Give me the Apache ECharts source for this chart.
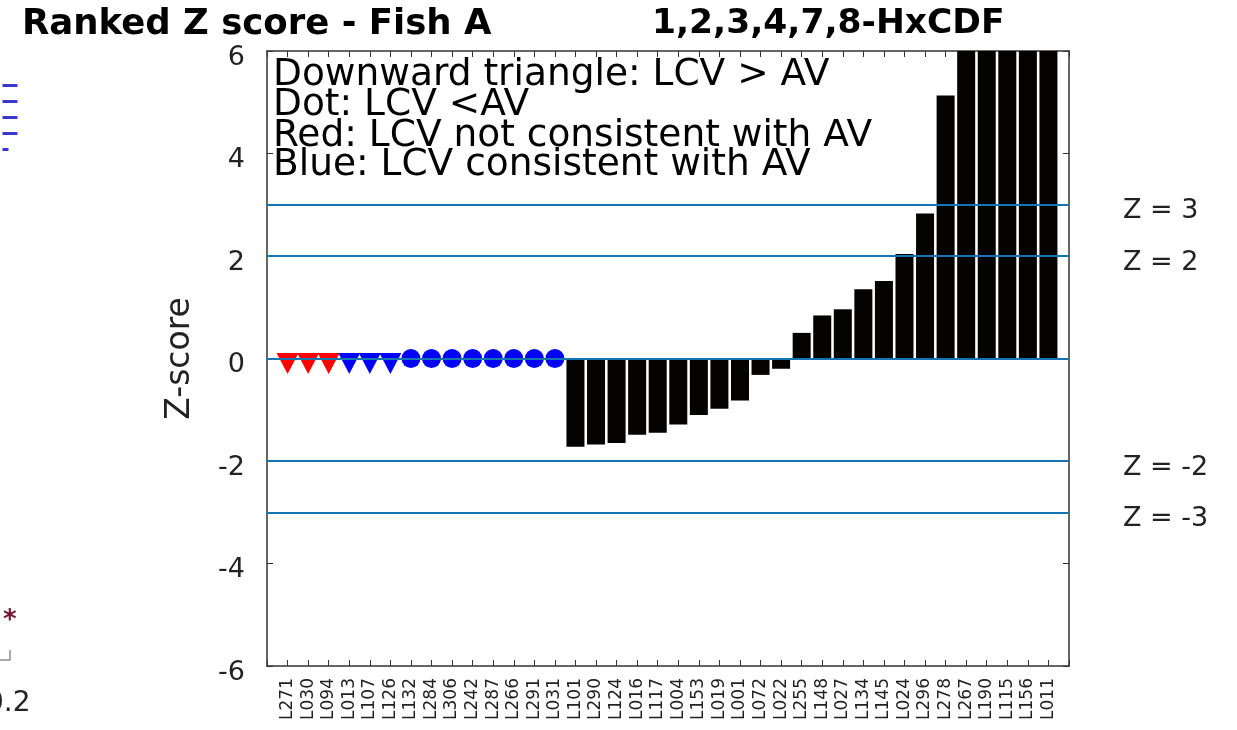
<!DOCTYPE html>
<html>
<head>
<meta charset="utf-8">
<title>Ranked Z score - Fish A</title>
<script src="https://cdn.jsdelivr.net/npm/echarts@6/dist/echarts.min.js"></script>
<style>
  html, body { margin: 0; padding: 0; background: #fff; }
  #chart { width: 1237px; height: 730px; }
</style>
</head>
<body>
<div id="chart"></div>
<script>
// lab codes, ranked
var labs = ['L271', 'L030', 'L094', 'L013', 'L107', 'L126', 'L132', 'L284', 'L306', 'L242',
    'L287', 'L266', 'L291', 'L031', 'L101', 'L290', 'L124', 'L016', 'L117', 'L004',
    'L153', 'L019', 'L001', 'L072', 'L022', 'L255', 'L148', 'L027', 'L134', 'L145',
    'L024', 'L296', 'L278', 'L267', 'L190', 'L115', 'L156', 'L011'];

// z scores (null = no score, marker instead); the last ones run off the top
var zScores = [null, null, null, null, null, null, null, null, null, null,
    null, null, null, null, -1.72, -1.68, -1.65, -1.49, -1.45, -1.29,
    -1.10, -0.98, -0.82, -0.32, -0.20, 0.50, 0.84, 0.96, 1.35, 1.51,
    2.04, 2.83, 5.13, 6, 6, 6, 6, 6];

// marker kind for labs below LOQ: tr = red triangle, tb = blue triangle, db = blue dot
var marks = ['tr', 'tr', 'tr', 'tb', 'tb', 'tb', 'db', 'db', 'db', 'db', 'db', 'db', 'db', 'db'];

var zLimits = [3, 2, -2, -3];

var legendLines = ['Downward triangle: LCV > AV', 'Dot: LCV <AV',
    'Red: LCV not consistent with AV', 'Blue: LCV consistent with AV'];

var font = 'DejaVu Sans';
var lineCol = '#1575b0';

var barData = [];
for (var i = 0; i < labs.length; i++) {
    if (zScores[i] !== null) barData.push([i + 1, zScores[i]]);
}
function markData(kind) {
    var out = [];
    for (var i = 0; i < marks.length; i++) {
        if (marks[i] === kind) out.push([i + 1, 0]);
    }
    return out;
}

var limitLines = [{ yAxis: 0, label: { show: false } }];
zLimits.forEach(function (z) {
    limitLines.push({ yAxis: z, label: { formatter: '{a|Z = ' + z + '}' } });
});

var chart = echarts.init(document.getElementById('chart'));

var axisBase = {
    type: 'value',
    min: 0,
    max: labs.length + 1,
    interval: 1,
    splitLine: { show: false },
    axisLine: { show: true, onZero: false, lineStyle: { color: '#333', width: 1.5 } },
    axisTick: { show: true, inside: true, length: 6, lineStyle: { color: '#333' } }
};

var option = {
    backgroundColor: '#fff',
    animation: false,
    grid: { left: 267, top: 51, width: 802, height: 615 },
    xAxis: [
        Object.assign({}, axisBase, {
            position: 'bottom',
            axisLabel: {
                rotate: 90,
                margin: 12,
                fontFamily: font,
                fontSize: 17,
                color: '#222',
                formatter: function (v) { return labs[v - 1] || ''; }
            }
        }),
        Object.assign({}, axisBase, {
            position: 'top',
            axisLabel: { show: false }
        })
    ],
    yAxis: [
        {
            type: 'value', min: -6, max: 6, interval: 2,
            name: 'Z-score',
            nameLocation: 'middle',
            nameGap: 70,
            nameTextStyle: { fontFamily: font, fontSize: 33, color: '#222' },
            splitLine: { show: false },
            axisLine: { show: true, onZero: false, lineStyle: { color: '#333', width: 1.5 } },
            axisTick: { show: true, inside: true, length: 6, lineStyle: { color: '#333' } },
            axisLabel: {
                margin: 22,
                formatter: function (v) { return '{a|' + v + '}'; },
                rich: { a: { fontFamily: font, fontSize: 27, color: '#222', padding: [13, 0, 0, 0] } }
            }
        },
        {
            type: 'value', min: -6, max: 6, interval: 2, position: 'right',
            splitLine: { show: false },
            axisLine: { show: true, onZero: false, lineStyle: { color: '#333', width: 1.5 } },
            axisTick: { show: true, inside: true, length: 6, lineStyle: { color: '#333' } },
            axisLabel: { show: false }
        }
    ],
    series: [
        {
            type: 'bar',
            data: barData,
            barWidth: 18,
            itemStyle: { color: '#050202' },
            markLine: {
                silent: true,
                symbol: ['none', 'none'],
                lineStyle: { color: lineCol, width: 2, type: 'solid' },
                label: {
                    position: 'end',
                    distance: 54,
                    rich: { a: { fontFamily: font, fontSize: 27, color: '#222', padding: [13, 0, 0, 0] } }
                },
                data: limitLines
            }
        },
        {
            type: 'scatter',
            data: markData('tr'),
            symbol: 'triangle',
            symbolRotate: 180,
            symbolSize: [22, 21],
            symbolOffset: [0, 5],
            itemStyle: { color: '#ff0000', opacity: 1 }
        },
        {
            type: 'scatter',
            data: markData('tb'),
            symbol: 'triangle',
            symbolRotate: 180,
            symbolSize: [22, 21],
            symbolOffset: [0, 5],
            itemStyle: { color: '#0000ff', opacity: 1 }
        },
        {
            type: 'scatter',
            data: markData('db'),
            symbol: 'circle',
            symbolSize: 19,
            itemStyle: { color: '#0000ff', opacity: 1 }
        }
    ],
    graphic: [
        // titles
        { type: 'text', left: 22, top: 7,
          style: { text: 'Ranked Z score - Fish A', font: 'bold 35.5px "DejaVu Sans"', fill: '#000' } },
        { type: 'text', left: 652, top: 7,
          style: { text: '1,2,3,4,7,8-HxCDF', font: 'bold 34.5px "DejaVu Sans"', fill: '#000' } },
        // note text in the plot
        { type: 'text', left: 273, top: 56,
          style: { text: legendLines[0], font: '37.5px "DejaVu Sans"', fill: '#000' } },
        { type: 'text', left: 273, top: 86,
          style: { text: legendLines[1], font: '37.5px "DejaVu Sans"', fill: '#000' } },
        { type: 'text', left: 273, top: 117,
          style: { text: legendLines[2], font: '37.5px "DejaVu Sans"', fill: '#000' } },
        { type: 'text', left: 273, top: 146,
          style: { text: legendLines[3], font: '37.5px "DejaVu Sans"', fill: '#000' } },
        // edge of the neighbouring panel
        { type: 'group', left: 0, top: 83, children: [
            { type: 'line', shape: { x1: 0, y1: 0, x2: 15, y2: 0 }, style: { stroke: '#3a3ac8', lineWidth: 3 } },
            { type: 'line', shape: { x1: 0, y1: 16, x2: 15, y2: 16 }, style: { stroke: '#3a3ac8', lineWidth: 3 } },
            { type: 'line', shape: { x1: 0, y1: 32, x2: 15, y2: 32 }, style: { stroke: '#3a3ac8', lineWidth: 3 } },
            { type: 'line', shape: { x1: 0, y1: 48, x2: 15, y2: 48 }, style: { stroke: '#3a3ac8', lineWidth: 3 } },
            { type: 'line', shape: { x1: 0, y1: 64, x2: 6, y2: 64 }, style: { stroke: '#3a3ac8', lineWidth: 3 } }
        ] },
        { type: 'text', left: 3, top: 608,
          style: { text: '*', font: 'bold 26px "DejaVu Sans"', fill: '#701830' } },
        { type: 'line', shape: { x1: 10, y1: 650, x2: 10, y2: 660 }, style: { stroke: '#555', lineWidth: 1 } },
        { type: 'line', shape: { x1: 0, y1: 660, x2: 10, y2: 660 }, style: { stroke: '#555', lineWidth: 1 } },
        { type: 'text', left: -14, top: 690,
          style: { text: '0.2', font: '28px "DejaVu Sans"', fill: '#222' } }
    ]
};

chart.setOption(option);
</script>
</body>
</html>
